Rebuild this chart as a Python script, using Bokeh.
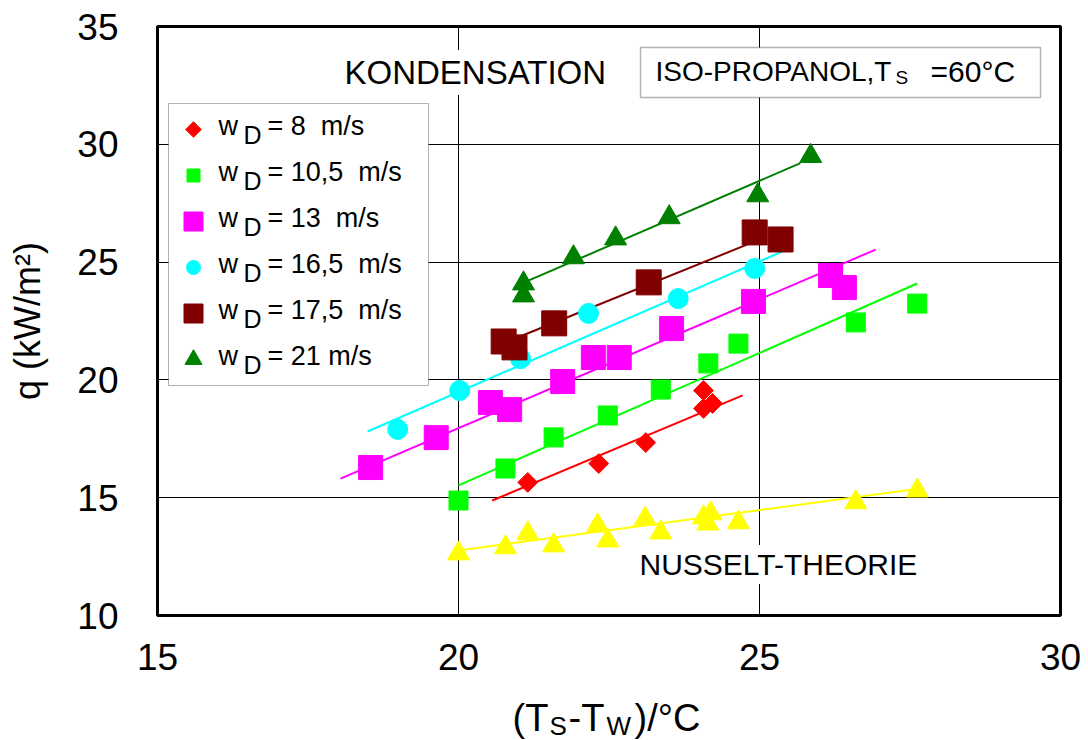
import numpy as np
from bokeh.plotting import figure
from bokeh.layouts import column
from bokeh.models import Range1d, Label, BoxAnnotation, FixedTicker
from bokeh.embed import file_html
from bokeh.resources import INLINE

# ---------------- data ----------------
x_ticks = [15, 20, 25, 30]
y_ticks = [10, 15, 20, 25, 30, 35]

legend_texts = ["= 8\u00a0\u00a0m/s", "= 10,5\u00a0\u00a0m/s", "= 13\u00a0\u00a0m/s",
                "= 16,5\u00a0\u00a0m/s", "= 17,5\u00a0\u00a0m/s", "= 21\u00a0m/s"]

# w_D = 8 m/s
x_8 = [21.15, 22.33, 23.11, 24.07, 24.07, 24.22]
y_8 = [15.65, 16.45, 17.34, 19.55, 18.79, 19.00]
fit_x_8 = [20.56, 24.72]
fit_y_8 = [14.88, 19.34]

# w_D = 10,5 m/s
x_105 = [20.00, 20.78, 21.58, 22.48, 23.36, 24.15, 24.65, 26.60, 27.62]
y_105 = [14.88, 16.24, 17.56, 18.49, 19.59, 20.70, 21.54, 22.44, 23.24]
fit_x_105 = [20.00, 27.62]
fit_y_105 = [15.52, 24.09]

# w_D = 13 m/s
x_13 = [18.54, 19.63, 20.53, 20.85, 21.73, 22.24, 22.67, 23.54, 24.90, 26.18, 26.41]
y_13 = [16.28, 17.55, 19.04, 18.74, 19.93, 20.95, 20.95, 22.18, 23.33, 24.43, 23.92]
fit_x_13 = [18.04, 26.93]
fit_y_13 = [15.81, 25.53]

# w_D = 16,5 m/s
x_165 = [18.99, 20.02, 21.03, 22.16, 23.65, 24.92]
y_165 = [17.90, 19.55, 20.90, 22.82, 23.45, 24.73]
fit_x_165 = [18.49, 25.45]
fit_y_165 = [17.81, 25.53]

# w_D = 17,5 m/s
x_175 = [20.75, 20.93, 21.59, 23.16, 24.92, 25.35]
y_175 = [21.63, 21.38, 22.40, 24.14, 26.26, 25.96]
fit_x_175 = [20.98, 24.80]
fit_y_175 = [21.80, 25.75]

# w_D = 21 m/s
x_21 = [21.08, 21.08, 21.91, 22.61, 23.50, 24.97, 25.85]
y_21 = [24.09, 23.58, 25.20, 26.00, 26.90, 27.83, 29.50]
fit_x_21 = [21.15, 25.68]
fit_y_21 = [24.20, 29.20]

# Nusselt theory
x_nu = [20.00, 20.78, 21.15, 21.58, 22.31, 22.48, 23.10, 23.36, 24.07, 24.19, 24.14, 24.65, 26.60, 27.62]
y_nu = [12.63, 12.89, 13.48, 12.97, 13.82, 13.18, 14.10, 13.52, 14.16, 14.33, 13.90, 13.95, 14.80, 15.30]
fit_x_nu = [20.00, 27.70]
fit_y_nu = [12.76, 15.40]

# ---------------- figure ----------------
X0, X1, Y0, Y1 = 15, 30, 10, 35
W, H_TOP, H_BOT = 1088, 680, 60
BL, BR, BT, BB = 157, 28, 26, 65
FONT = "Liberation Sans"
SHIFT = 12  # Bokeh places alphabetic baseline a little lower than requested

p = figure(width=W, height=H_TOP, x_range=Range1d(X0, X1), y_range=Range1d(Y0, Y1),
           output_backend="svg", toolbar_location=None, title=None,
           min_border_left=BL, min_border_right=BR, min_border_top=BT, min_border_bottom=BB)
p.background_fill_color = "white"
p.border_fill_color = "white"
p.outline_line_color = "black"
p.outline_line_width = 3

FW = W - BL - BR
FH = H_TOP - BT - BB


def dx(px):
    return X0 + (px - BL) * (X1 - X0) / FW


def dy(py):
    return Y1 - (py - BT) * (Y1 - Y0) / FH


for ax in (p.xaxis, p.yaxis):
    ax.axis_line_color = None
    ax.major_tick_line_color = None
    ax.minor_tick_line_color = None
    ax.major_label_text_font = FONT
    ax.major_label_text_font_size = "37px"
    ax.major_label_text_color = "black"
p.xaxis.ticker = FixedTicker(ticks=x_ticks)
p.yaxis.ticker = FixedTicker(ticks=y_ticks)
p.xaxis.major_label_standoff = 22
p.yaxis.major_label_standoff = 33
p.yaxis.axis_label = "q (kW/m²)"
p.yaxis.axis_label_text_font = FONT
p.yaxis.axis_label_text_font_size = "36px"
p.yaxis.axis_label_text_font_style = "normal"
p.yaxis.axis_label_text_color = "black"
p.yaxis.axis_label_standoff = 26

p.xgrid.ticker = FixedTicker(ticks=x_ticks)
p.ygrid.ticker = FixedTicker(ticks=y_ticks)
for g in (p.xgrid, p.ygrid):
    g.grid_line_color = "black"
    g.grid_line_width = 1

# fit lines
lw = 2
p.line(fit_x_nu, fit_y_nu, line_color="#FFFF00", line_width=lw)
p.line(fit_x_8, fit_y_8, line_color="#FF0000", line_width=lw)
p.line(fit_x_105, fit_y_105, line_color="#00FF00", line_width=lw)
p.line(fit_x_13, fit_y_13, line_color="#FF00FF", line_width=lw)
p.line(fit_x_165, fit_y_165, line_color="#00FFFF", line_width=lw)
p.line(fit_x_175, fit_y_175, line_color="#800000", line_width=lw)
p.line(fit_x_21, fit_y_21, line_color="#008000", line_width=lw)

# markers
p.scatter(x_nu, y_nu, marker="triangle", size=22, fill_color="#FFFF00", line_color="#FFFF00")
p.scatter(x_8, y_8, marker="square", angle=np.pi / 4, size=14, fill_color="#FF0000", line_color="#FF0000")
p.scatter(x_105, y_105, marker="square", size=19, fill_color="#00FF00", line_color="#00FF00")
p.scatter(x_13, y_13, marker="square", size=24, fill_color="#FF00FF", line_color="#FF00FF")
p.scatter(x_165, y_165, marker="circle", size=20, fill_color="#00FFFF", line_color="#00FFFF")
p.scatter(x_175, y_175, marker="square", size=25, fill_color="#800000", line_color="#800000")
p.scatter(x_21, y_21, marker="triangle", size=22, fill_color="#008000", line_color="#008000")


def lab(text, px, py, size, align="left", **kw):
    return Label(x=dx(px), y=dy(py - SHIFT), text=text, text_font=FONT, text_font_size=f"{size}px",
                 text_align=align, text_baseline="alphabetic", text_color="black", **kw)


# ---------------- legend (drawn by hand so that w_D gets its subscript) ----------------
p.add_layout(BoxAnnotation(left=dx(168), right=dx(428), top=dy(103), bottom=dy(385),
                           fill_color="white", fill_alpha=1.0, line_color="black", line_width=1))
leg_markers = ["square", "square", "square", "circle", "square", "triangle"]
leg_angles = [np.pi / 4, 0, 0, 0, 0, 0]
leg_sizes = [11, 13, 19, 14, 19, 17]
leg_colors = ["#FF0000", "#00FF00", "#FF00FF", "#00FFFF", "#800000", "#008000"]
for i, t in enumerate(legend_texts):
    cy = 129 + 46 * i
    p.scatter([dx(193)], [dy(cy)], marker=leg_markers[i], angle=leg_angles[i], size=leg_sizes[i],
              fill_color=leg_colors[i], line_color=leg_colors[i], level="overlay")
    b = 137 + 46 * i
    p.add_layout(lab("w", 218, b, 27, level="overlay"))
    p.add_layout(lab("D", 243, b + 9, 25, level="overlay"))
    p.add_layout(lab(t, 267, b, 27, level="overlay"))

# annotations
p.add_layout(lab("KONDENSATION", 340, 84, 33, background_fill_color="white", padding=4))
p.add_layout(BoxAnnotation(left=dx(640), right=dx(1040), top=dy(47), bottom=dy(97),
                           fill_color="white", fill_alpha=1.0, line_color="black", line_width=1.5))
p.add_layout(lab("ISO-PROPANOL,T", 655, 83, 28, level="overlay"))
p.add_layout(lab("S", 895, 89, 19, level="overlay"))
p.add_layout(lab("=60°C", 930, 83, 30, level="overlay"))
p.add_layout(lab("NUSSELT-THEORIE", 636, 576, 30, background_fill_color="white", padding=3))

# ---------------- x axis title (own strip so the subscripts can be drawn) ----------------
p2 = figure(width=W, height=H_BOT, x_range=Range1d(X0, X1), y_range=Range1d(0, H_BOT),
            output_backend="svg", toolbar_location=None, title=None,
            x_axis_location=None, y_axis_location=None, min_border=0,
            min_border_left=BL, min_border_right=BR, min_border_top=0, min_border_bottom=0)
p2.grid.visible = False
p2.outline_line_color = None
p2.background_fill_color = "white"
p2.border_fill_color = "white"


def lab2(text, px, py, size):
    return Label(x=dx(px), y=H_BOT - (py - SHIFT - H_TOP), text=text, text_font=FONT,
                 text_font_size=f"{size}px", text_align="left", text_baseline="alphabetic",
                 text_color="black")


p2.add_layout(lab2("(T", 512, 729, 38))
p2.add_layout(lab2("S", 549, 737, 26))
p2.add_layout(lab2("-T", 568, 729, 38))
p2.add_layout(lab2("W", 606, 737, 26))
p2.add_layout(lab2(")/°C", 634, 729, 38))

open("out.html", "w").write(file_html(column(p, p2, spacing=0), INLINE))
